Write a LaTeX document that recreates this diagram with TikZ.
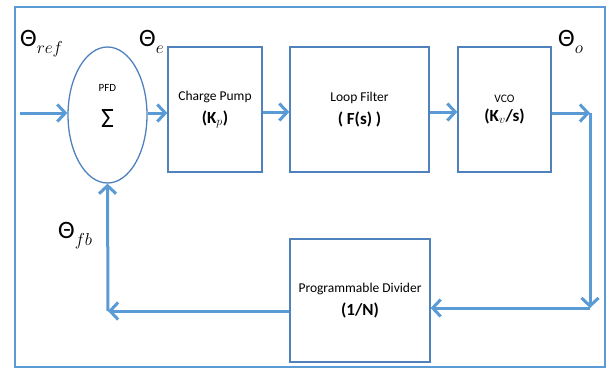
\documentclass[tikz,border=0pt]{standalone}
\usepackage{fontspec}
\setmainfont{Carlito}
\usetikzlibrary{arrows.meta,shapes.geometric}
\definecolor{lblue}{RGB}{91,155,213}
\definecolor{bblue}{RGB}{79,129,189}
\tikzset{
  blk/.style={draw=bblue,line width=1.3pt,minimum height=125pt,align=center,inner sep=0pt},
  arr/.style={draw=lblue,line width=3pt,-{Straight Barb[length=8pt,width=17pt]}},
  theta/.style={font=\fontsize{25}{27}\selectfont,inner sep=0pt,anchor=base west},
  small/.style={font=\fontsize{11}{13}\selectfont},
}
\newcommand{\bigtxt}[1]{{\fontsize{17}{19}\selectfont\bfseries #1}}
\newcommand{\midtxt}[1]{{\fontsize{13.5}{15}\selectfont #1}}
\begin{document}
\begin{tikzpicture}[x=1pt,y=-1pt]
\useasboundingbox (0,0) rectangle (609,370);
\draw[lblue,line width=2.5pt] (15,7) rectangle (605,367);
% blocks
\node[draw=bblue,line width=1.3pt,ellipse,minimum width=79pt,minimum height=136pt,inner sep=0pt] (pfd) at (107.5,115) {};
\node[small] (pfdt) at (107.5,88) {PFD};
\node[font=\fontsize{28}{30}\selectfont] (sig) at (107.5,119) {Σ};
\node[blk,minimum width=94pt] (cp) at (215,109.5) {\midtxt{Charge Pump}\\[7pt]\bigtxt{(K$_{p}$)}};
\node[blk,minimum width=139pt] (lf) at (359.5,109.5) {\midtxt{Loop Filter}\\[7pt]\bigtxt{( F(s) )}};
\node[blk,minimum width=93pt] (vco) at (504.5,109.5) {{\fontsize{11.5}{13}\selectfont VCO}\\[5pt]\bigtxt{(K$_{v}$/s)}};
\node[blk,minimum width=140pt,minimum height=123pt] (pd) at (360,300.5) {\midtxt{Programmable Divider}\\[7pt]\bigtxt{(1/N)}};
% coordinates
\coordinate (in) at (20,113);
\coordinate (c1) at (590,113);
\coordinate (c2) at (590,308);
\coordinate (c3) at (108,311);
% connectors
\draw[arr] (in) -- (in -| pfd.west);
\draw[arr] (pfd.east |- 0,113) -- (cp.west |- 0,113);
\draw[arr] (cp.east |- 0,112) -- (lf.west |- 0,112);
\draw[arr] (lf.east |- 0,112) -- (vco.west |- 0,112);
\draw[arr] (vco.east |- c1) -- (c1);
\draw[arr] (c1) -- (c2);
\draw[arr] (c2) -- (pd.east |- c2);
\draw[arr] (pd.west |- c3) -- (c3);
\draw[arr] (c3) -- (pfd.south);
% labels
\node[theta] (tr) at (20,46) {Θ\raisebox{-4pt}{$_{ref}$}};
\node[theta] (te) at (139,46) {Θ\raisebox{-4pt}{$_{e}$}};
\node[theta] (to) at (558,46) {Θ\raisebox{-4pt}{$_{o}$}};
\node[theta] (tf) at (58,238) {Θ\raisebox{-4pt}{$_{fb}$}};
\end{tikzpicture}
\end{document}
